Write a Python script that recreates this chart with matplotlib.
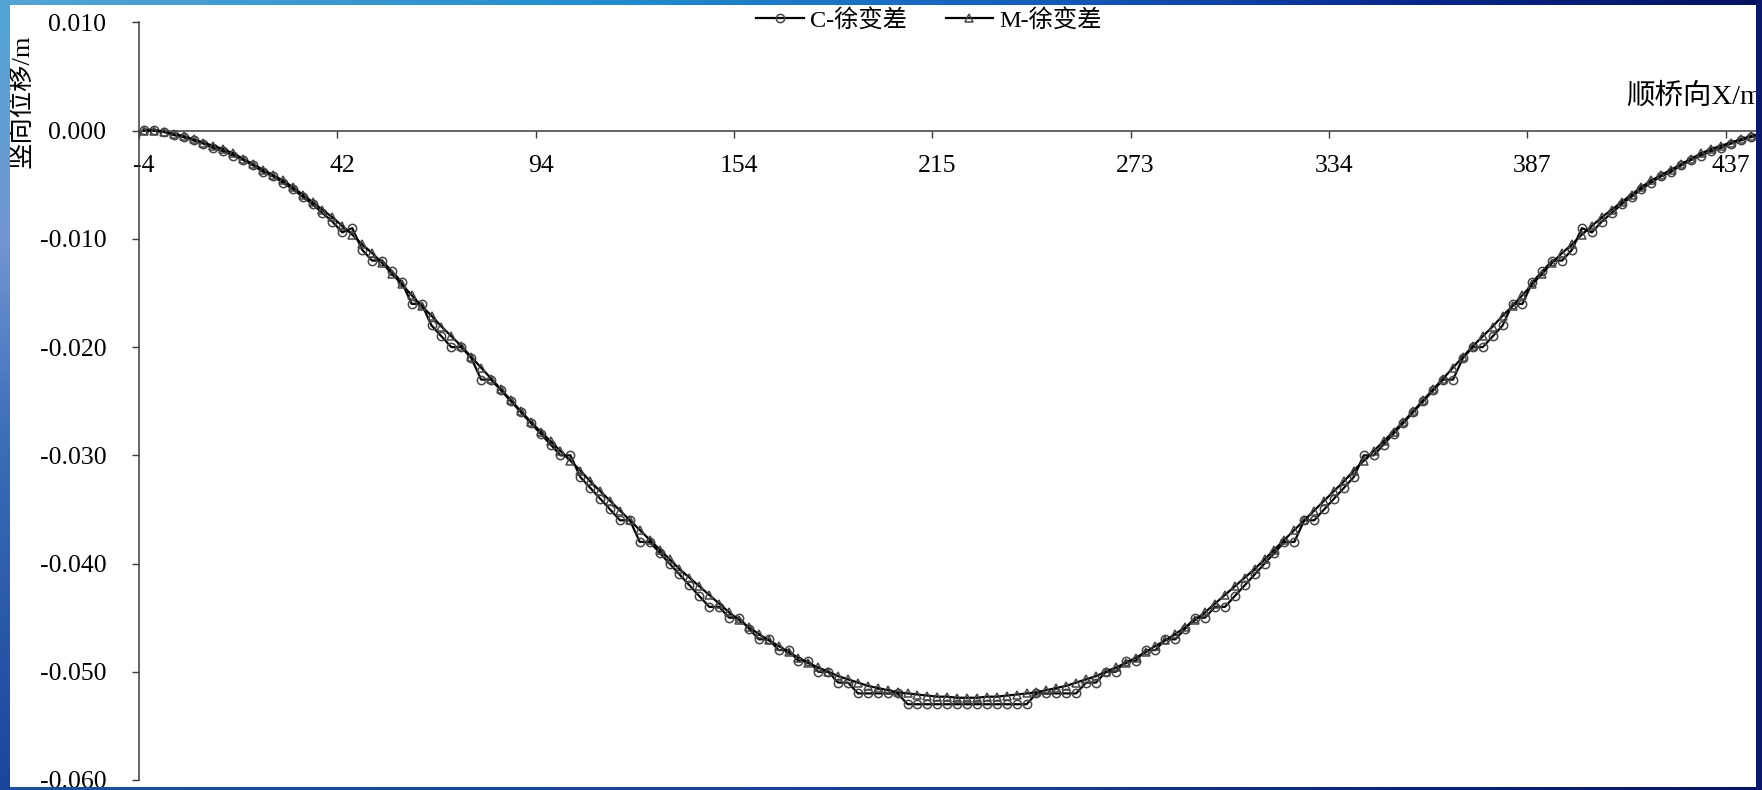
import numpy as np
import matplotlib
matplotlib.use("Agg")
import matplotlib.pyplot as plt
from matplotlib.ticker import FuncFormatter, MultipleLocator

plt.rcParams['font.family'] = ['Liberation Serif', 'Noto Sans CJK SC']
plt.rcParams['axes.unicode_minus'] = False

# ---- data (vertical displacement, mm) ----
series_names = ['C-徐变差', 'M-徐变差']

c_creep_mm = [
    0.1, 0.1, -0.1, -0.4, -0.6, -0.9, -1.2, -1.6, -1.9, -2.3,
    -2.7, -3.2, -3.8, -4.2, -4.8, -5.4, -6.1, -6.8, -7.6, -8.4,
    -9.4, -9.0, -11, -12, -12, -13, -14, -16, -16, -18,
    -19, -20, -20, -21, -23, -23, -24, -25, -26, -27,
    -28, -29, -30, -30, -32, -33, -34, -35, -36, -36,
    -38, -38, -39, -40, -41, -42, -43, -44, -44, -45,
    -45, -46, -47, -47, -48, -48, -49, -49, -50, -50,
    -51, -51, -52, -52, -52, -52, -52, -53, -53, -53,
    -53, -53, -53, -53, -53, -53, -53, -53, -53, -53,
    -52, -52, -52, -52, -52, -51, -51, -50, -50, -49,
    -49, -48, -48, -47, -47, -46, -45, -45, -44, -44,
    -43, -42, -41, -40, -39, -38, -38, -36, -36, -35,
    -34, -33, -32, -30, -30, -29, -28, -27, -26, -25,
    -24, -23, -23, -21, -20, -20, -19, -18, -16, -16,
    -14, -13, -12, -12, -11, -9.0, -9.4, -8.4, -7.6, -6.8,
    -6.1, -5.4, -4.8, -4.2, -3.8, -3.2, -2.7, -2.3, -1.9, -1.6,
    -1.2, -0.9, -0.6, -0.4, -0.1, 0.1, 0.1,
]

m_creep_mm = [
    0.0, 0.0, -0.1, -0.3, -0.5, -0.8, -1.1, -1.4, -1.7, -2.1,
    -2.6, -3.1, -3.6, -4.1, -4.6, -5.2, -5.9, -6.6, -7.3, -8.0,
    -8.8, -9.6, -10.5, -11.3, -12.2, -13.2, -14.2, -15.2, -16.2, -17.1,
    -18.1, -19.0, -19.9, -20.9, -21.9, -22.9, -23.9, -24.9, -25.9, -26.9,
    -27.8, -28.7, -29.6, -30.5, -31.4, -32.4, -33.3, -34.2, -35.1, -36.0,
    -36.9, -37.8, -38.7, -39.6, -40.5, -41.3, -42.1, -42.9, -43.7, -44.5,
    -45.2, -45.9, -46.5, -47.1, -47.6, -48.2, -48.7, -49.2, -49.6, -50.0,
    -50.4, -50.7, -51.0, -51.3, -51.5, -51.7, -51.9, -52.0, -52.1, -52.2,
    -52.3, -52.3, -52.4, -52.4, -52.4, -52.3, -52.3, -52.2, -52.1, -52.0,
    -51.9, -51.7, -51.5, -51.3, -51.0, -50.7, -50.4, -50.0, -49.6, -49.2,
    -48.7, -48.2, -47.6, -47.1, -46.5, -45.9, -45.2, -44.5, -43.7, -42.9,
    -42.1, -41.3, -40.5, -39.6, -38.7, -37.8, -36.9, -36.0, -35.1, -34.2,
    -33.3, -32.4, -31.4, -30.5, -29.6, -28.7, -27.8, -26.9, -25.9, -24.9,
    -23.9, -22.9, -21.9, -20.9, -19.9, -19.0, -18.1, -17.1, -16.2, -15.2,
    -14.2, -13.2, -12.2, -11.3, -10.5, -9.6, -8.8, -8.0, -7.3, -6.6,
    -5.9, -5.2, -4.6, -4.1, -3.6, -3.1, -2.6, -2.1, -1.7, -1.4,
    -1.1, -0.8, -0.5, -0.3, -0.1, 0.0, 0.0,
]

# category-axis labels (bridge station, m), one every 20 nodes
station_labels = ['-4', '42', '94', '154', '215', '273', '334', '387', '437']
label_step = 20

n_nodes = len(m_creep_mm)
assert len(c_creep_mm) == n_nodes
idx = np.arange(n_nodes)
c_vals = np.array(c_creep_mm) / 1000.0
m_vals = np.array(m_creep_mm) / 1000.0

# ---- figure ----
W, H = 1762, 790
fig = plt.figure(figsize=(W / 100, H / 100), dpi=100)
fig.patch.set_facecolor('white')

cat_w = 9.917
ax_left, ax_top, ax_bot = 139, 22.5, 780
ax = fig.add_axes([ax_left / W, (H - ax_bot) / H, n_nodes * cat_w / W, (ax_bot - ax_top) / H])
ax.set_facecolor('none')

line_kw = dict(color='black', lw=1.6, mfc='none', mec='#454545', mew=1.1)
l1, = ax.plot(idx, c_vals, marker='o', ms=6.0, zorder=3, label=series_names[0], **line_kw)
l2, = ax.plot(idx, m_vals, marker='^', ms=5.5, zorder=4, label=series_names[1], **line_kw)

ax.set_xlim(-0.5, n_nodes - 0.5)
ax.set_ylim(-0.060, 0.010)

spine_c = '#3a3a3a'
for s in ['top', 'right']:
    ax.spines[s].set_visible(False)
ax.spines['left'].set_color(spine_c)
ax.spines['left'].set_linewidth(1.1)
ax.spines['bottom'].set_color(spine_c)
ax.spines['bottom'].set_linewidth(1.1)
ax.spines['bottom'].set_position(('data', 0.0))

ax.yaxis.set_major_locator(MultipleLocator(0.01))
ax.yaxis.set_major_formatter(FuncFormatter(lambda v, p: f"{v:.3f}".replace('-0.000', '0.000')))
ax.tick_params(axis='y', which='major', direction='out', length=5, width=1.0,
               color=spine_c, labelsize=18.5, pad=18.5)

label_pos = np.arange(0, n_nodes, label_step)[:len(station_labels)]
ax.set_xticks(label_pos - 0.5)
ax.set_xticklabels([])
ax.set_xticks(label_pos, minor=True)
ax.set_xticklabels(station_labels, minor=True)
ax.tick_params(axis='x', which='major', direction='out', length=5, width=1.0, color=spine_c)
ax.tick_params(axis='x', which='minor', length=0, labelsize=18.5, pad=17.5)

# axis titles
fig.text(21 / W, 1 - 101 / H, '竖向位移/m', rotation=90, ha='center', va='center', fontsize=19)
fig.text(1762 / W, 1 - 96 / H, '顺桥向X/m', ha='right', va='center', fontsize=20.5)

fig.legend(handles=[l1, l2], loc='center', bbox_to_anchor=(929 / W, 1 - 20 / H), ncol=2,
           frameon=False, fontsize=17.5, handlelength=1.95, handletextpad=0.25,
           columnspacing=1.6, borderpad=0, borderaxespad=0)

# ---- gradient slide frame drawn over the edges ----
xs = np.linspace(0, 1, W)
ys = np.linspace(0, 1, H)
top_stops = [0, 0.35, 0.6, 0.8, 1.0]
top_cols = np.array([(85, 165, 212), (35, 140, 205), (20, 90, 185), (10, 40, 140), (5, 18, 95)]) / 255
bot_cols = np.array([(30, 80, 160), (25, 70, 155), (20, 60, 145), (10, 35, 120), (8, 22, 100)]) / 255
left_stops = [0, 0.3, 0.55, 1.0]
left_cols = np.array([(80, 165, 215), (115, 150, 210), (60, 110, 185), (25, 70, 155)]) / 255

top_row = np.stack([np.interp(xs, top_stops, top_cols[:, k]) for k in range(3)], axis=-1)
bot_row = np.stack([np.interp(xs, top_stops, bot_cols[:, k]) for k in range(3)], axis=-1)
left_col = np.stack([np.interp(ys, left_stops, left_cols[:, k]) for k in range(3)], axis=-1)

frame = np.zeros((H, W, 4))
frame[:5, :, :3] = top_row[None, :, :]
frame[:5, :, 3] = 1
frame[787:, :, :3] = bot_row[None, :, :]
frame[787:, :, 3] = 1
frame[:, :10, :3] = left_col[:, None, :]
frame[:, :10, 3] = 1
frame[:, 1756:, :3] = np.array((10, 25, 105)) / 255
frame[:, 1756:, 3] = 1

fax = fig.add_axes([0, 0, 1, 1], zorder=20)
fax.imshow(frame, aspect='auto', interpolation='nearest', extent=(0, 1, 0, 1))
fax.axis('off')

fig.savefig('out.png', dpi=100)
